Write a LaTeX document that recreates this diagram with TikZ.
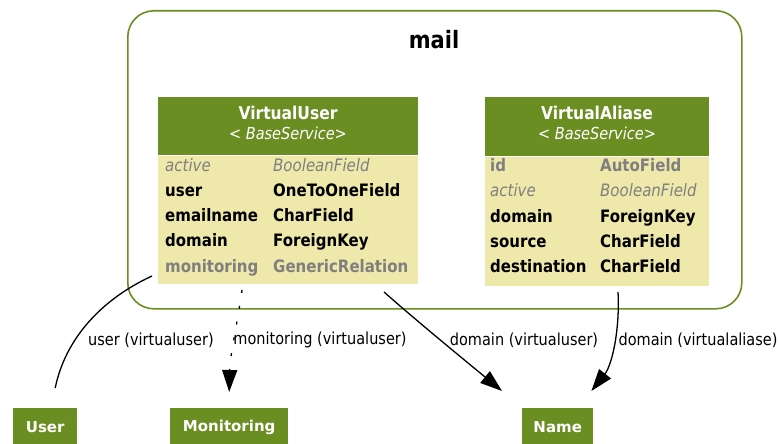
\documentclass[tikz,border=0pt]{standalone}
\usepackage{fontspec}
\setmainfont{DejaVu Sans}
\usetikzlibrary{arrows.meta, positioning, calc}
\definecolor{djgreen}{RGB}{107,142,35}
\definecolor{djyellow}{RGB}{238,232,170}
\definecolor{djgray}{RGB}{127,127,127}

\begin{document}
\begin{tikzpicture}[x=1pt, y=-1pt,
    cluster/.style={draw=djgreen, line width=1.6pt, rounded corners=26pt, inner sep=0pt},
    hdr/.style={fill=djgreen, inner sep=0pt, anchor=north west},
    bodybox/.style={fill=djyellow, inner sep=0pt, anchor=north west},
    tall/.style={yscale=1.14, transform shape},
    ttl/.style={tall, text=white, inner sep=0pt, font=\fontsize{15.5}{18}\selectfont\bfseries},
    subttl/.style={tall, text=white, inner sep=0pt, font=\fontsize{14.5}{17}\selectfont\itshape},
    fld/.style={tall, anchor=west, inner sep=0pt, text height=11pt, text depth=3pt, font=\fontsize{15}{18}\selectfont\bfseries},
    fldgray/.style={fld, text=djgray},
    fldoff/.style={fld, text=djgray, font=\fontsize{15}{18}\selectfont\itshape},
    model/.style={fill=djgreen, text=white, minimum height=38pt, inner sep=0pt, anchor=north west, font=\fontsize{15}{18}\selectfont\bfseries},
    link/.style={line width=1.3pt},
    linkarrow/.style={link, -{Triangle[length=22pt,width=15pt]}},
    lbl/.style={tall, inner sep=0pt, font=\fontsize{14.5}{17}\selectfont}
]
    \useasboundingbox (0,0) rectangle (779,444);

    % Cluster mail
    \node[cluster, minimum width=614pt, minimum height=298pt, anchor=north west] (mail) at (127,10) {};
    \node[tall, inner sep=0pt, font=\fontsize{21}{25}\selectfont\bfseries] (mail-label) at (434,40) {mail};

    % VirtualUser
    \node[hdr, minimum width=260pt, minimum height=58pt] (vu) at (158,97) {};
    \node[bodybox, minimum width=260pt, minimum height=128pt] (vu-body) at (vu.south west) {};
    \node[ttl] (vu-name) at (288,113) {VirtualUser};
    \node[subttl] (vu-base) at (288,133) {< BaseService>};
    \node[fldoff] (vu-f1) at (165,167) {active};
    \node[fldoff] (vu-t1) at (273,167) {BooleanField};
    \node[fld] (vu-f2) at (165,192) {user};
    \node[fld] (vu-t2) at (273,192) {OneToOneField};
    \node[fld] (vu-f3) at (165,217) {emailname};
    \node[fld] (vu-t3) at (273,217) {CharField};
    \node[fld] (vu-f4) at (165,242) {domain};
    \node[fld] (vu-t4) at (273,242) {ForeignKey};
    \node[fldgray] (vu-f5) at (165,268) {monitoring};
    \node[fldgray] (vu-t5) at (273,268) {GenericRelation};

    % VirtualAliase
    \node[hdr, minimum width=224pt, minimum height=59pt] (va) at (485,97) {};
    \node[bodybox, minimum width=224pt, minimum height=129pt] (va-body) at (va.south west) {};
    \node[ttl] (va-name) at (597,113) {VirtualAliase};
    \node[subttl] (va-base) at (597,133) {< BaseService>};
    \node[fldgray] (va-f1) at (490,167) {id};
    \node[fldgray] (va-t1) at (600,167) {AutoField};
    \node[fldoff] (va-f2) at (490,192) {active};
    \node[fldoff] (va-t2) at (600,192) {BooleanField};
    \node[fld] (va-f3) at (490,218) {domain};
    \node[fld] (va-t3) at (600,218) {ForeignKey};
    \node[fld] (va-f4) at (490,243) {source};
    \node[fld] (va-t4) at (600,243) {CharField};
    \node[fld] (va-f5) at (490,268) {destination};
    \node[fld] (va-t5) at (600,268) {CharField};

    % Related models
    \node[model, minimum width=64pt] (user) at (13,408) {User};
    \node[model, minimum width=118pt] (mon) at (170,408) {Monitoring};
    \node[model, minimum width=71pt] (name) at (522,408) {Name};

    % Edge ends
    \coordinate (vu-out1) at (152,276);
    \coordinate (vu-out2) at (242,290);
    \coordinate (vu-out3) at (384,292);
    \coordinate (va-out1) at (618,292);
    \coordinate (user-in) at ($(user.north)+(10,-20)$);
    \coordinate (mon-in) at ($(mon.north)+(0,-16)$);
    \coordinate (name-in1) at ($(name.north west)+(-20,-17)$);
    \coordinate (name-in2) at ($(name.north east)+(-2,-17)$);

    % Edges
    \draw[link] (vu-out1) .. controls (100,300) and (65,340) .. (user-in);
    \draw[linkarrow, dash pattern=on 3pt off 13pt] (vu-out2) .. controls (238,320) and (230,355) .. (mon-in);
    \draw[linkarrow] (vu-out3) .. controls (418,322) and (462,358) .. (name-in1);
    \draw[linkarrow] (va-out1) .. controls (620,330) and (612,365) .. (name-in2);

    % Edge labels
    \node[lbl] (l-user) at (151,340) {user (virtualuser)};
    \node[lbl] (l-mon) at (320,340) {monitoring (virtualuser)};
    \node[lbl] (l-dom1) at (524,340) {domain (virtualuser)};
    \node[lbl] (l-dom2) at (698,340) {domain (virtualaliase)};

\end{tikzpicture}
\end{document}
